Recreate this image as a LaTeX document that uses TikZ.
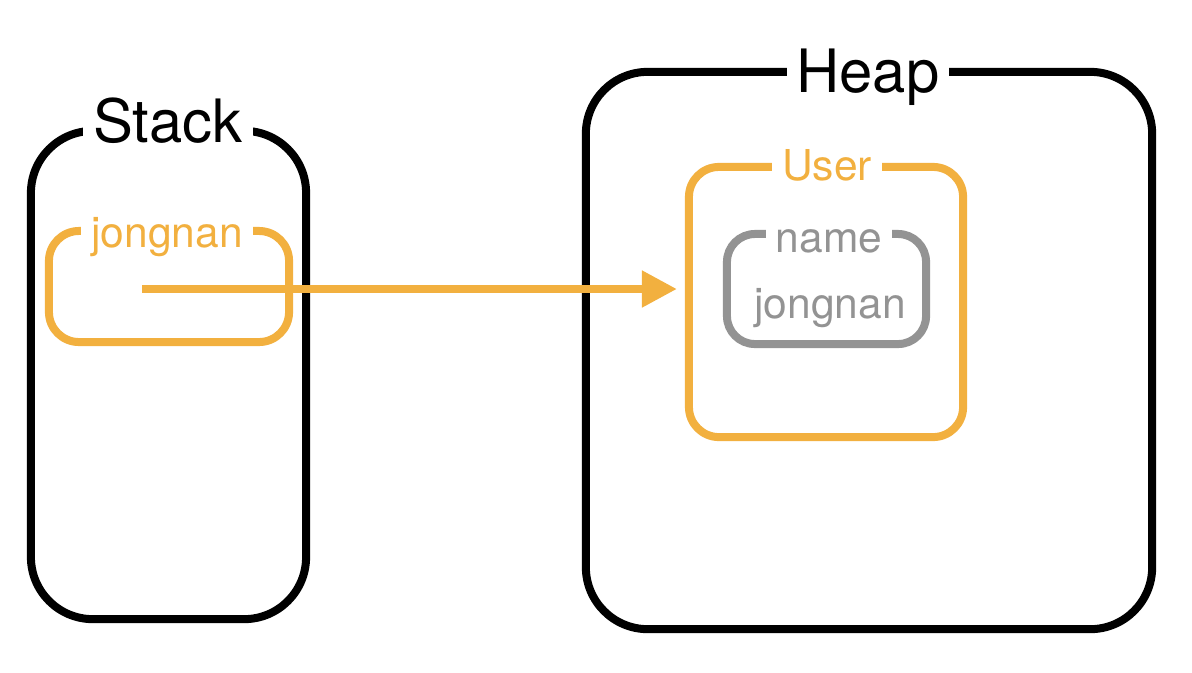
\documentclass[tikz,border=0pt]{standalone}
\usepackage{fontspec}
\setmainfont{TeX Gyre Heros}
\usetikzlibrary{arrows.meta}
\definecolor{objorange}{HTML}{F2B03F}
\definecolor{fieldgray}{HTML}{939393}

\begin{document}
\begin{tikzpicture}[x=0.01cm, y=-0.01cm]

      %styles for memory areas, objects and their titles
      \tikzset{
      region/.style={draw=black, line width=0.08cm, rounded corners=0.62cm, inner sep=0pt},
      objbox/.style={draw=objorange, line width=0.08cm, rounded corners=0.3cm, inner sep=0pt},
      fieldbox/.style={draw=fieldgray, line width=0.08cm, rounded corners=0.28cm, inner sep=0pt},
      title/.style={fill=white, anchor=base, inner xsep=0.1cm, font=\fontsize{17}{20}\selectfont},
      subtitle/.style={fill=white, anchor=base, inner xsep=0.1cm, font=\fontsize{12.1}{14}\selectfont},
      }

      \useasboundingbox (0,0) rectangle (1192,672);

      %stack
      \node[region, minimum width=2.75cm, minimum height=4.88cm] (stack) at (168.5,375) {};
      \node[title] (stacklabel) at (168,142) {Stack};

      %reference variable
      \node[objbox, minimum width=2.4cm, minimum height=1.11cm] (var) at (169,286.5) {};
      \node[subtitle, text=objorange] (varlabel) at (167,247) {jongnan};
      \coordinate (ptr) at (142,289);

      %heap
      \node[region, minimum width=5.66cm, minimum height=5.57cm] (heap) at (869,350.5) {};
      \node[title] (heaplabel) at (868,92) {Heap};

      %object
      \node[objbox, minimum width=2.74cm, minimum height=2.7cm] (user) at (826,302) {};
      \node[subtitle, text=objorange] (userlabel) at (827,180) {User};

      %field
      \node[fieldbox, minimum width=1.99cm, minimum height=1.1cm] (field) at (826.5,289) {};
      \node[subtitle, text=fieldgray] (fieldlabel) at (829,252) {name};
      \node[subtitle, fill=none, text=fieldgray] (fieldvalue) at (830,318) {jongnan};

      %pointer
      \draw[objorange, line width=0.08cm, -{Triangle[length=0.35cm, width=0.35cm]}, shorten >=0.08cm]
        (ptr) -- (ptr -| user.west);
    \end{tikzpicture}
\end{document}
